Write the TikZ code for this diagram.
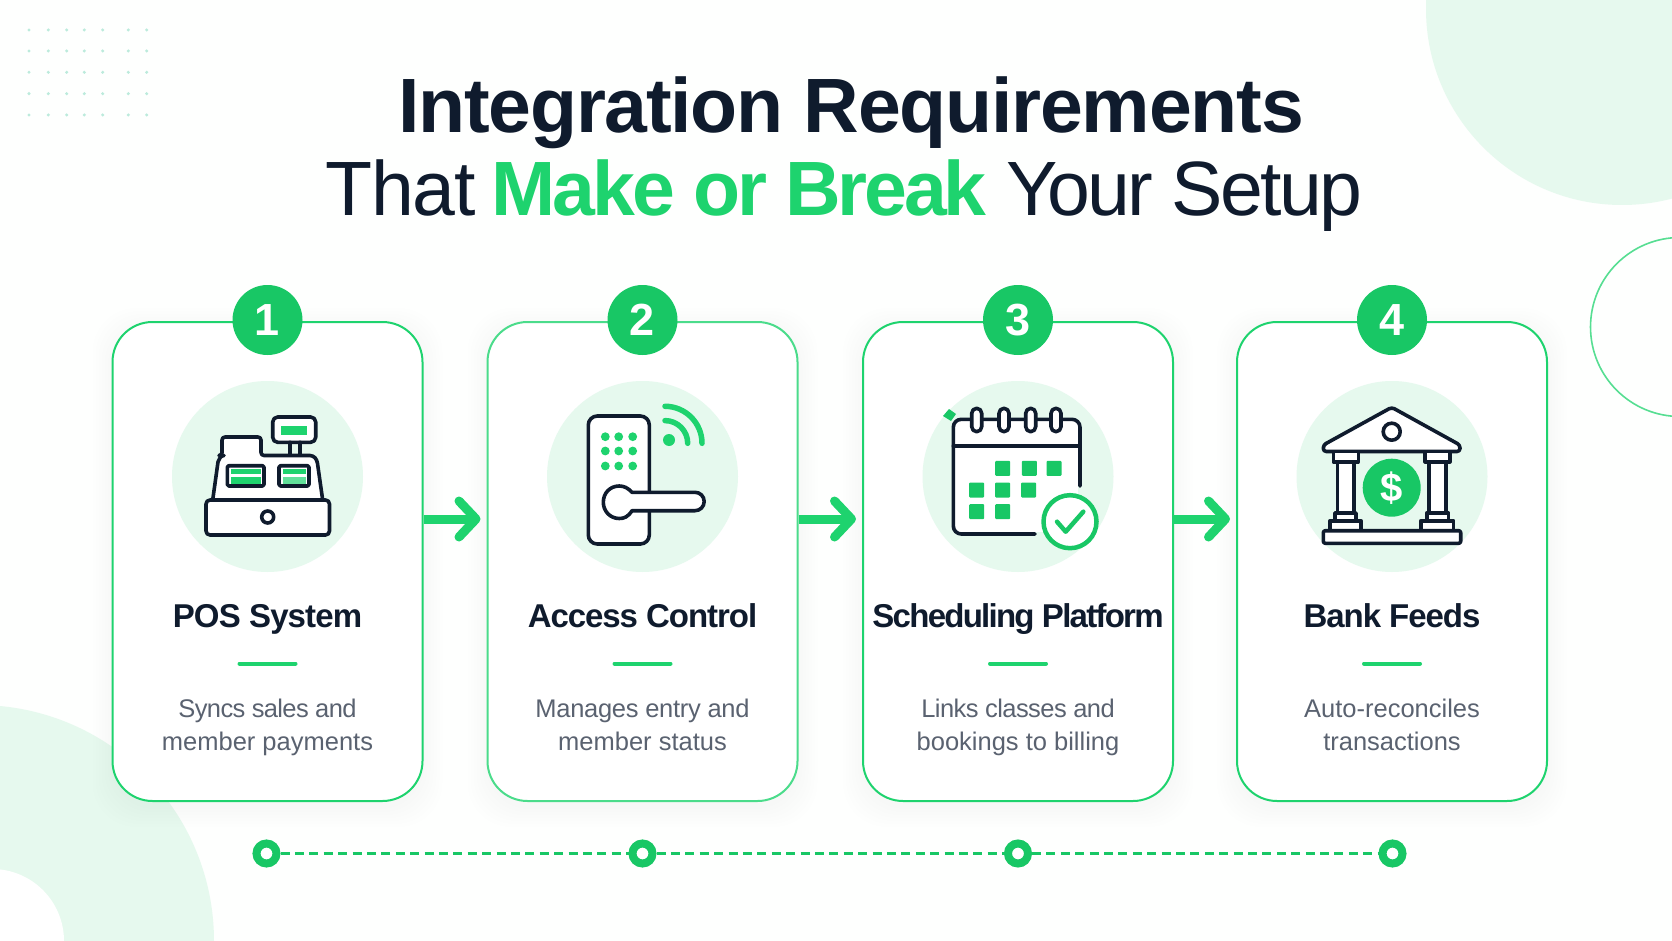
\documentclass[tikz,border=0pt]{standalone}
\usepackage{fontspec}
\setmainfont{Liberation Sans}
\usetikzlibrary{arrows.meta,calc}
\definecolor{grn}{HTML}{1ED36E}
\definecolor{grnd}{HTML}{18C765}
\definecolor{mint}{HTML}{E6F9EE}
\definecolor{navy}{HTML}{0F1B2D}
\definecolor{body}{HTML}{5A6270}
\definecolor{dotc}{HTML}{BCEBDC}
\newcommand{\fz}[1]{\fontsize{#1}{#1}\selectfont}
\newcommand{\ls}[1]{\addfontfeature{LetterSpace=#1}}
\tikzset{
  cardbox/.style={draw=grn,line width=2pt,fill=white,rounded corners=40pt,minimum width=310pt,minimum height=479pt,inner sep=0pt},
  badge/.style={circle,fill=grnd,minimum size=70pt,inner sep=0pt,text=white,font=\fz{45}\bfseries},
  halo/.style={circle,fill=mint,minimum size=191pt,inner sep=0pt},
  ctitle/.style={anchor=base,text=navy,font=\fz{33}\bfseries\ls{-3.2},inner sep=0pt},
  cdesc/.style={anchor=base,text=body,font=\fz{25.5},inner sep=0pt},
  bar/.style={draw=grn,line width=4pt,line cap=round},
  flow/.style={draw=grn,line width=9pt,-{Straight Barb[round,length=17pt,width=36pt,line width=9pt]}},
  tick/.style={circle,draw=grnd,line width=8pt,fill=white,minimum size=20pt,inner sep=0pt},
  tline/.style={draw=grnd,line width=3pt,dash pattern=on 9pt off 5.4pt},
  ico/.style={draw=navy,line width=3.6pt,line join=round,line cap=round,fill=white},
  icoo/.style={draw=navy,line width=3.6pt,line join=round,line cap=round},
}
\begin{document}
\begin{tikzpicture}[x=1pt,y=-1pt]
\useasboundingbox (0,0) rectangle (1672,941);
\fill[white!99!green!50!white] (0,0) rectangle (1672,941);
% background shapes
\begin{scope}
\clip (0,0) rectangle (1672,941);
\fill[mint] (1622,9) circle[radius=196pt];
\draw[grn!75,line width=1.6pt] (1680,327) circle[radius=89.5pt];
\fill[mint] (-22,941) circle[radius=236pt];
\fill[white] (-8,941) circle[radius=72pt];
\end{scope}
\foreach \dx in {29,48.3,66.7,84.3,102.7,128.3,146.7}
  \foreach \dy in {30,51,72.3,93.7,115}
    \fill[dotc] (\dx,\dy) circle[radius=1.7pt];
% title
\node[anchor=base,inner sep=0pt,text=navy,font=\fz{77}\bfseries\ls{-1.6}] (t1) at (851,133) {Integration Requirements};
\node[anchor=base,inner sep=0pt,text=navy,font=\fz{77}] (t2) at (844,216) {{\ls{-2}That}\hspace{-5pt} {\bfseries\color{grn}\ls{-4.1}Make or Break}\hspace{-2pt} {\ls{-3.6}Your Setup}};
% card shadows
\foreach \cx in {267.5,642.5,1018,1392}
  \foreach \s in {2,5,...,20}
    \fill[black,opacity=.004,rounded corners=44pt] (\cx-155-\s,322-\s+6) rectangle (\cx+155+\s,801+\s+6);
% cards
\node[cardbox] (c1) at (267.5,561.5) {};
\node[cardbox,draw=grn!80] (c2) at (642.5,561.5) {};
\node[cardbox] (c3) at (1018,561.5) {};
\node[cardbox] (c4) at (1392,561.5) {};
% flow arrows
\draw[flow,shorten >=6pt] ([yshift=42.5pt]c1.east) -- ([yshift=42.5pt]c2.west);
\draw[flow,shorten >=6pt] ([yshift=42.5pt]c2.east) -- ([yshift=42.5pt]c3.west);
\draw[flow,shorten >=6pt] ([yshift=42.5pt]c3.east) -- ([yshift=42.5pt]c4.west);
% badges
\node[badge] (b1) at (267.5,320) {1};
\node[badge] (b2) at (642.5,320) {2};
\node[badge] (b3) at (1018,320) {3};
\node[badge] (b4) at (1392,320) {4};
% halos
\node[halo] (h1) at (267.5,476.5) {};
\node[halo] (h2) at (642.5,476.5) {};
\node[halo] (h3) at (1018,476.5) {};
\node[halo] (h4) at (1392,476.5) {};
% card text
\node[ctitle,font=\fz{33}\bfseries\ls{-2.6}] (n1) at (267.5,627) {POS System};
\node[ctitle] (n2) at (642.5,627) {Access Control};
\node[ctitle,font=\fz{33}\bfseries\ls{-5.3}] (n3) at (1018,627) {Scheduling Platform};
\node[ctitle] (n4) at (1392,627) {Bank Feeds};
\foreach \cx in {267.5,642.5,1018,1392}
  \draw[bar] (\cx-28,663.5) -- (\cx+28,663.5);
\node[cdesc,font=\fz{25.5}\ls{-2.5}] (d1a) at (267.5,717) {Syncs sales and};
\node[cdesc] (d1b) at (267.5,750.5) {member payments};
\node[cdesc,font=\fz{25.5}\ls{-1.2}] (d2a) at (642.5,717) {Manages entry and};
\node[cdesc] (d2b) at (642.5,750.5) {member status};
\node[cdesc,font=\fz{25.5}\ls{-2.2}] (d3a) at (1018,717) {Links classes and};
\node[cdesc] (d3b) at (1018,750.5) {bookings to billing};
\node[cdesc] (d4a) at (1392,717) {Auto-reconciles};
\node[cdesc] (d4b) at (1392,750.5) {transactions};
% timeline
\node[tick] (k1) at (266.5,853.5) {};
\node[tick] (k2) at (642.5,853.5) {};
\node[tick] (k3) at (1018,853.5) {};
\node[tick] (k4) at (1392.5,853.5) {};
\draw[tline] (k1) -- (k2);
\draw[tline] (k2) -- (k3);
\draw[tline] (k3) -- (k4);
% ---- icon 1: register
\draw[ico] (219.5,500) -- (212.7,500) -- (218,462) [rounded corners=3pt] -- (221,455.5) -- (222,455.5) -- (222,437) -- (261,437) -- (261,455.5) -- (313,455.5) -- (317,460) [sharp corners] -- (322.7,500) -- cycle;
\draw[ico,rounded corners=4pt] (206,500) rectangle (329.5,535);
\draw[icoo] (267.7,517) circle[radius=6pt];
\draw[ico,rounded corners=5pt] (272.7,417) rectangle (315.7,442.3);
\fill[grn] (281,426) rectangle (306.7,435);
\draw[icoo] (290,442.3) -- (290,455);
\draw[icoo] (300,442.3) -- (300,455);
\draw[ico,rounded corners=1.5pt] (227.3,465.7) rectangle (264,486);
\fill[grn] (231,468.5) rectangle (260.5,474);
\fill[grn] (231,477) rectangle (260.5,483.5);
\draw[ico,rounded corners=1.5pt] (279,465.7) rectangle (309,486);
\fill[grn] (282.5,468.5) rectangle (305.5,474);
\fill[grn!70] (282.5,477) rectangle (305.5,483.5);
% ---- icon 2: lock
\draw[ico,rounded corners=9pt] (588.3,416) rectangle (649.3,544);
\foreach \lx in {605.3,618.7,632.7}
  \foreach \ly in {436.7,451,466}
    \fill[grn] (\lx,\ly) circle[radius=4.4pt];
\draw[ico] (632,492.3) -- (695,492.3) arc[start angle=90,end angle=-90,radius=9.2pt] -- (632,510.7)
  .. controls (628,517) and (624,518.5) .. (619.3,518.5)
  .. controls (610,518.5) and (603.3,511) .. (603.3,502.3)
  .. controls (603.3,493) and (610,486) .. (619.3,486)
  .. controls (624,486) and (628,488) .. (632,492.3) -- cycle;
\fill[grn] (669,440) circle[radius=6pt];
\draw[grn,line width=5.5pt,line cap=round] (665,420.6) arc[start angle=90,end angle=0,radius=22.7pt];
\draw[grn,line width=5.5pt,line cap=round] (665,406.3) arc[start angle=90,end angle=0,radius=37pt];
% ---- icon 3: calendar
\fill[white] (955,421) rectangle (1078,532);
\draw[icoo,rounded corners=8pt] (1080,486) -- (1080,419.3) -- (953.3,419.3) -- (953.3,534) -- (1035,534);
\draw[icoo] (953.3,446) -- (1080,446);
\foreach \rx in {976.7,1004,1030.7,1056}
  \draw[ico,rounded corners=5pt] (\rx-5,408.3) rectangle (\rx+5,431.7);
\foreach \sx/\sy in {1002.7/468.3,1029.3/468.3,1054/468.3,976.7/490,1002.7/490,1028.7/490,976.7/511.7,1002.7/511.7}
  \fill[grnd,rounded corners=1pt] (\sx-7.5,\sy-7.5) rectangle (\sx+7.5,\sy+7.5);
\fill[grnd] (943,416) -- (949,409) -- (956,414) -- (951,421) -- cycle;
\draw[draw=grnd,fill=white,line width=4.5pt] (1070,521.7) circle[radius=26.5pt];
\draw[grnd,line width=4.5pt,line cap=round,line join=round] (1057,521.7) -- (1065.7,531.7) -- (1083.3,511.7);
% ---- icon 4: bank
\draw[ico,rounded corners=3pt] (1391.7,407.3) -- (1323.3,445) -- (1323.3,451.5) -- (1460,451.5) -- (1460,445) -- cycle;
\draw[icoo] (1391.7,431.7) circle[radius=8.5pt];
\foreach \o/\a/\b/\c/\d/\e/\f/\g/\h in {0/1333.3/1358.3/1337.3/1354/1335/1356/1330/1361,1/1425/1450/1429/1445.7/1426.7/1448.3/1420.7/1453.3}{
  \draw[ico] (\c,461.7) rectangle (\d,513);
  \draw[ico] (\a,451.5) rectangle (\b,461.7);
  \draw[ico] (\e,513) rectangle (\f,520.7);
  \draw[ico] (\g,520.7) rectangle (\h,530.7);
}
\draw[ico,rounded corners=2pt] (1323.3,530.7) rectangle (1460.7,543.3);
\node[circle,fill=grnd,minimum size=58pt,inner sep=0pt,text=white,font=\fz{40}\bfseries] (dollar) at (1391.7,487.7) {\$};
\end{tikzpicture}
\end{document}
